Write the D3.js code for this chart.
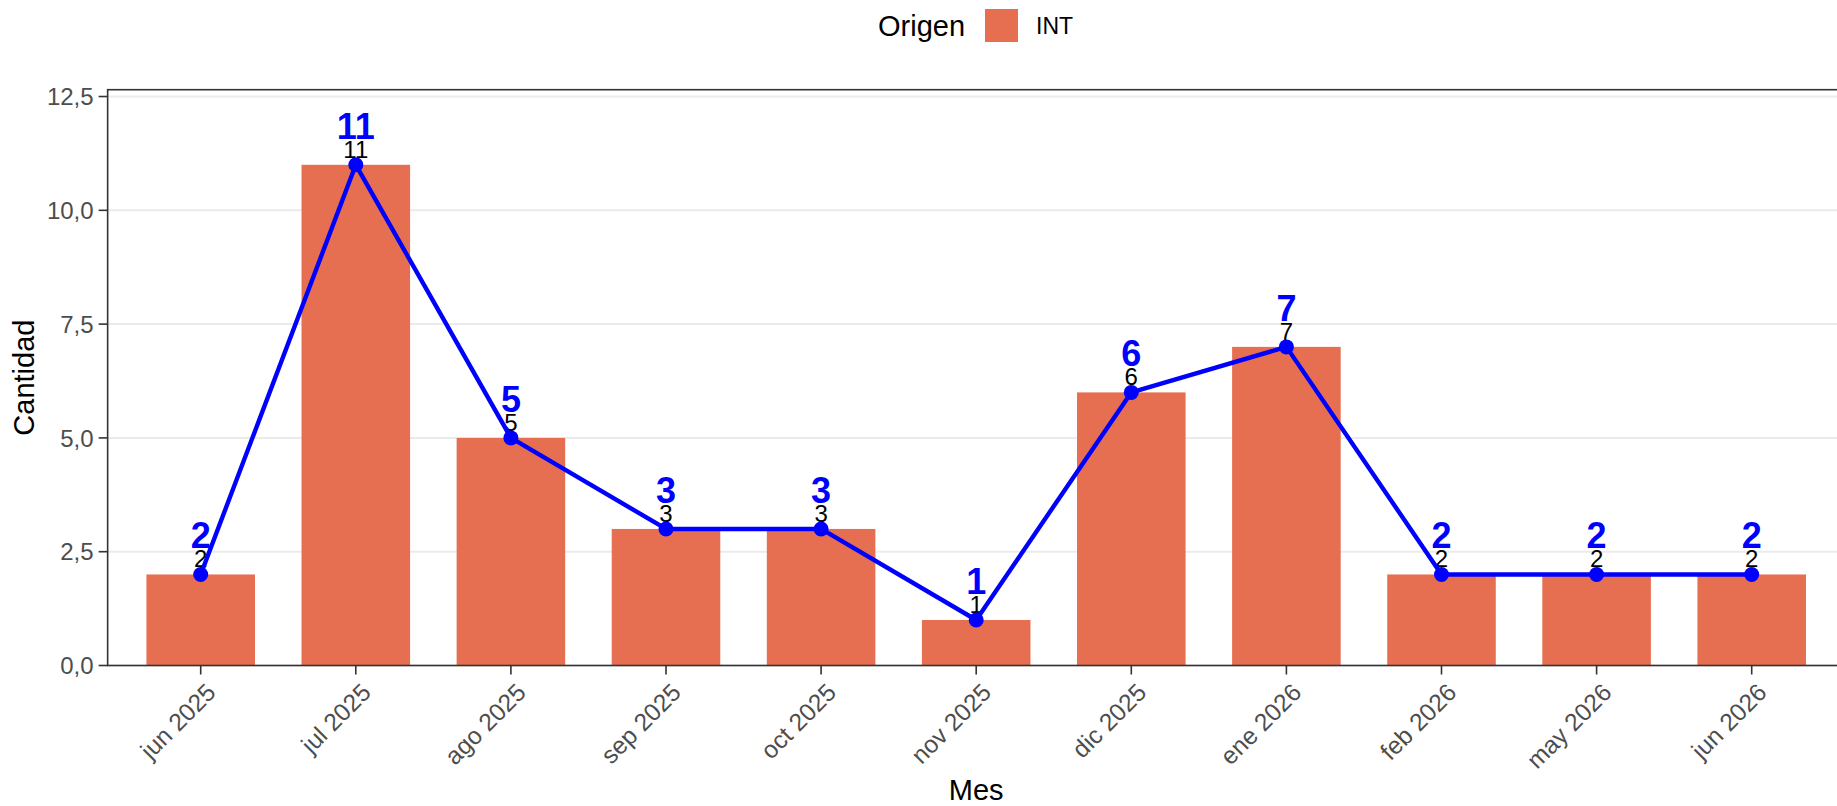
<!DOCTYPE html>
<html>
<head>
<meta charset="utf-8">
<script src="https://cdn.jsdelivr.net/npm/d3@7"></script>
<style>
  body { margin: 0; background: #fff; }
  svg { display: block; font-family: "Liberation Sans", Arial, sans-serif; }
</style>
</head>
<body>
<svg id="chart" width="1837" height="806"></svg>
<script>
// data
const meses = ['jun 2025', 'jul 2025', 'ago 2025', 'sep 2025', 'oct 2025', 'nov 2025',
  'dic 2025', 'ene 2026', 'feb 2026', 'may 2026', 'jun 2026']
const cantidad = [2, 11, 5, 3, 3, 1, 6, 7, 2, 2, 2]
const yTicks = [0, 2.5, 5, 7.5, 10, 12.5]
const origen = ['INT']

const data = meses.map((m, i) => ({ mes: m, n: cantidad[i] }))

const barColor = '#E76F51'
const lineColor = '#0000FF'
const axisColor = '#333333'
const tickText = '#4D4D4D'

const svg = d3.select('#chart')

// scales (panel runs a bit past the right edge, like the original)
const x = d3.scalePoint().domain(meses).range([200.7, 1751.7])
const step = x.step()
const panelLeft = x(meses[0]) - 0.6 * step
const panelRight = x(meses[meses.length - 1]) + 0.6 * step
const panelTop = 89.7
const panelBottom = 665.5

const y = d3.scaleLinear()
  .domain([0, d3.max(cantidad) * 1.15])
  .range([panelBottom, panelTop])

const fmt = d => d3.format('.1f')(d).replace('.', ',')

// gridlines
svg.append('g')
  .selectAll('line')
  .data(yTicks)
  .enter()
  .append('line')
  .attr('x1', panelLeft)
  .attr('x2', panelRight)
  .attr('y1', d => y(d))
  .attr('y2', d => y(d))
  .attr('stroke', '#EBEBEB')
  .attr('stroke-width', 2)

// bars
const barW = step * 0.7
svg.append('g')
  .selectAll('rect')
  .data(data)
  .enter()
  .append('rect')
  .attr('x', d => x(d.mes) - barW / 2)
  .attr('y', d => y(d.n))
  .attr('width', barW)
  .attr('height', d => y(0) - y(d.n))
  .attr('fill', barColor)

// black value labels
svg.append('g')
  .selectAll('text')
  .data(data)
  .enter()
  .append('text')
  .attr('x', d => x(d.mes))
  .attr('y', d => y(d.n) - 7)
  .attr('text-anchor', 'middle')
  .attr('font-size', 24)
  .attr('fill', '#000')
  .text(d => d.n)

// line + points
const line = d3.line().x(d => x(d.mes)).y(d => y(d.n))
svg.append('path')
  .datum(data)
  .attr('d', line)
  .attr('fill', 'none')
  .attr('stroke', lineColor)
  .attr('stroke-width', 4.4)
  .attr('stroke-linejoin', 'round')

svg.append('g')
  .selectAll('circle')
  .data(data)
  .enter()
  .append('circle')
  .attr('cx', d => x(d.mes))
  .attr('cy', d => y(d.n))
  .attr('r', 7.5)
  .attr('fill', lineColor)

// blue bold labels
svg.append('g')
  .selectAll('text')
  .data(data)
  .enter()
  .append('text')
  .attr('x', d => x(d.mes))
  .attr('y', d => y(d.n) - 26)
  .attr('text-anchor', 'middle')
  .attr('font-size', 36)
  .attr('font-weight', 'bold')
  .attr('fill', lineColor)
  .text(d => d.n)

// panel border
svg.append('rect')
  .attr('x', panelLeft)
  .attr('y', panelTop)
  .attr('width', panelRight - panelLeft)
  .attr('height', panelBottom - panelTop)
  .attr('fill', 'none')
  .attr('stroke', axisColor)
  .attr('stroke-width', 1.6)

// y axis ticks + labels
const yAxis = svg.append('g')
yAxis.selectAll('line')
  .data(yTicks)
  .enter()
  .append('line')
  .attr('x1', panelLeft - 9)
  .attr('x2', panelLeft)
  .attr('y1', d => y(d))
  .attr('y2', d => y(d))
  .attr('stroke', axisColor)
  .attr('stroke-width', 1.6)
yAxis.selectAll('text')
  .data(yTicks)
  .enter()
  .append('text')
  .attr('x', panelLeft - 14)
  .attr('y', d => y(d))
  .attr('dy', '0.36em')
  .attr('text-anchor', 'end')
  .attr('font-size', 24)
  .attr('fill', tickText)
  .text(fmt)

// x axis ticks + labels
const xAxis = svg.append('g')
xAxis.selectAll('line')
  .data(meses)
  .enter()
  .append('line')
  .attr('x1', d => x(d))
  .attr('x2', d => x(d))
  .attr('y1', panelBottom)
  .attr('y2', panelBottom + 9)
  .attr('stroke', axisColor)
  .attr('stroke-width', 1.6)
xAxis.selectAll('text')
  .data(meses)
  .enter()
  .append('text')
  .attr('transform', d => 'translate(' + (x(d) + 4) + ',' + (panelBottom + 16) + ') rotate(-45)')
  .attr('dy', '0.72em')
  .attr('text-anchor', 'end')
  .attr('font-size', 24.5)
  .attr('fill', tickText)
  .text(d => d)

// axis titles
svg.append('text')
  .attr('x', (panelLeft + panelRight) / 2)
  .attr('y', 800)
  .attr('text-anchor', 'middle')
  .attr('font-size', 29)
  .attr('fill', '#000')
  .text('Mes')

svg.append('text')
  .attr('transform', 'translate(34,' + (panelTop + panelBottom) / 2 + ') rotate(-90)')
  .attr('text-anchor', 'middle')
  .attr('font-size', 29)
  .attr('fill', '#000')
  .text('Cantidad')

// legend
const legend = svg.append('g')
legend.append('text')
  .attr('x', 878)
  .attr('y', 36)
  .attr('font-size', 29)
  .attr('fill', '#000')
  .text('Origen')
legend.selectAll('rect')
  .data(origen)
  .enter()
  .append('rect')
  .attr('x', 985)
  .attr('y', 9)
  .attr('width', 33)
  .attr('height', 33)
  .attr('fill', barColor)
legend.selectAll('.lab')
  .data(origen)
  .enter()
  .append('text')
  .attr('class', 'lab')
  .attr('x', 1036)
  .attr('y', 34)
  .attr('font-size', 23)
  .attr('fill', '#000')
  .text(d => d)
</script>
</body>
</html>
